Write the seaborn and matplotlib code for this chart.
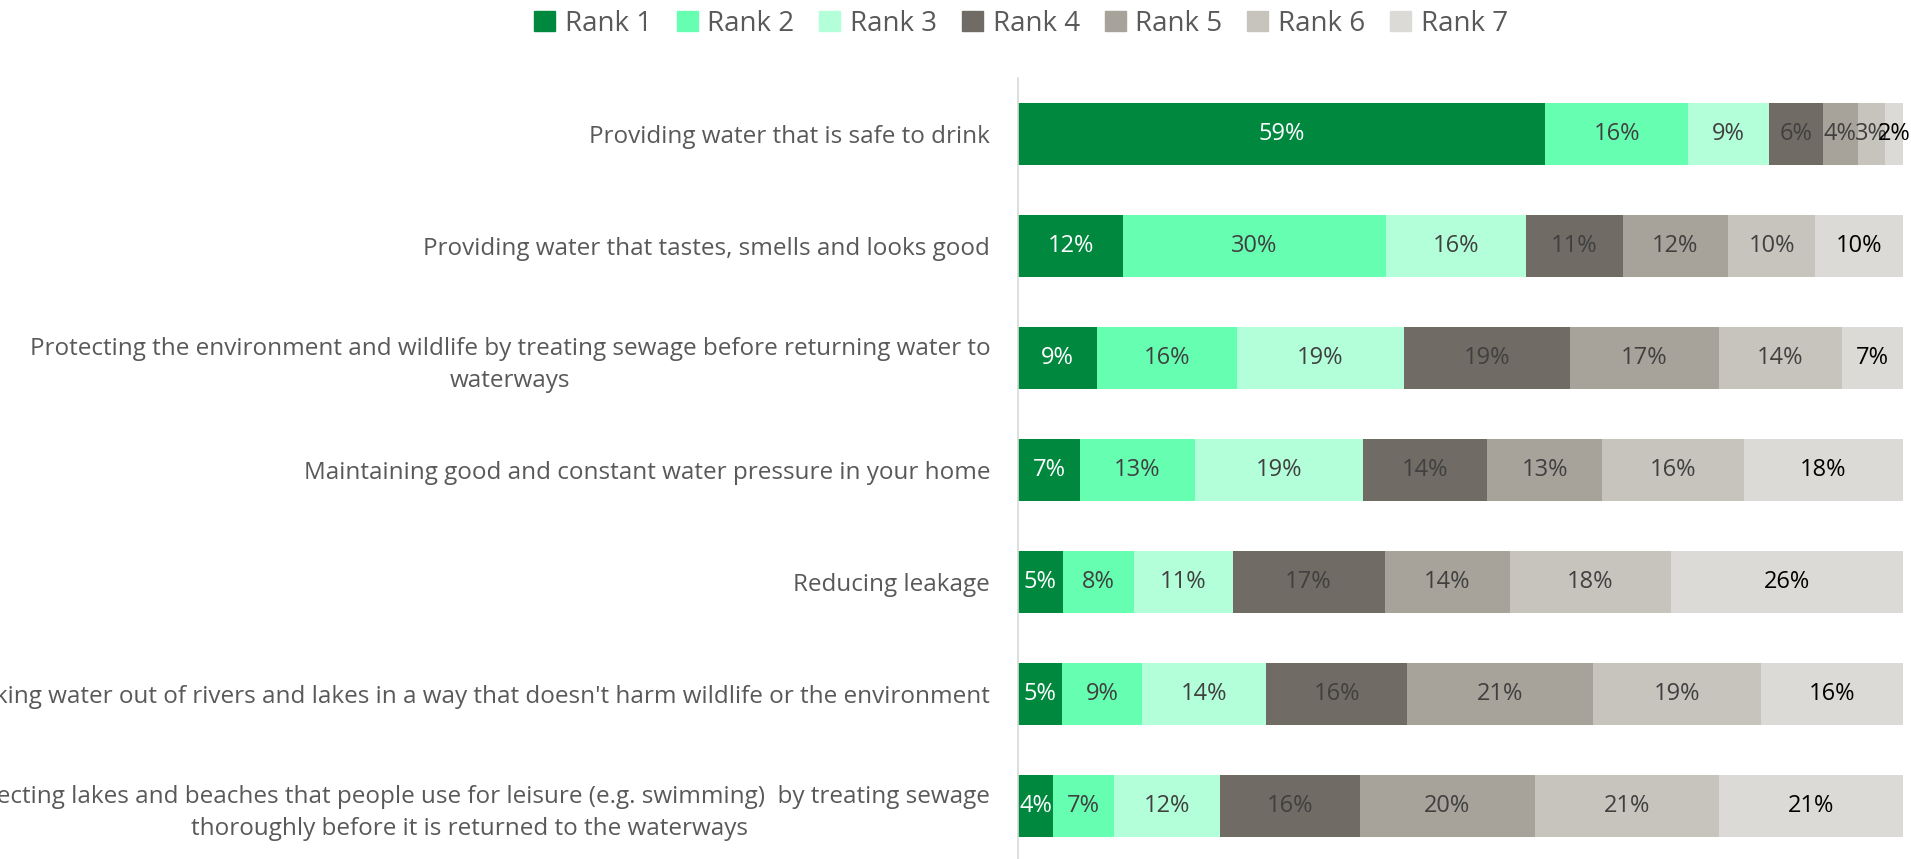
import numpy as np
import pandas as pd
import matplotlib
matplotlib.use("Agg")
import matplotlib.pyplot as plt
import seaborn as sns

categories = [
    "Providing water that is safe to drink",
    "Providing water that tastes, smells and looks good",
    "Protecting the environment and wildlife by treating sewage before returning water to\nwaterways",
    "Maintaining good and constant water pressure in your home",
    "Reducing leakage",
    "Taking water out of rivers and lakes in a way that doesn't harm wildlife or the environment",
    "Protecting lakes and beaches that people use for leisure (e.g. swimming)  by treating sewage\nthoroughly before it is returned to the waterways",
]
ranks = ["Rank 1", "Rank 2", "Rank 3", "Rank 4", "Rank 5", "Rank 6", "Rank 7"]

rank1 = [59, 12, 9, 7, 5, 5, 4]
rank2 = [16, 30, 16, 13, 8, 9, 7]
rank3 = [9, 16, 19, 19, 11, 14, 12]
rank4 = [6, 11, 19, 14, 17, 16, 16]
rank5 = [4, 12, 17, 13, 14, 21, 20]
rank6 = [3, 10, 14, 16, 18, 19, 21]
rank7 = [2, 10, 7, 18, 26, 16, 21]

colors = ["#00883F", "#66FFB2", "#B3FFD9", "#706B64", "#A7A39A", "#C7C4BE", "#DBDAD6"]
label_colors = ["#FFFFFF", "#404040", "#404040", "#404040", "#404040", "#404040", "#000000"]

FONT = ["Open Sans", "DejaVu Sans"]

sns.set_theme(style="white")
plt.rcParams["font.family"] = FONT

values = np.array([rank1, rank2, rank3, rank4, rank5, rank6, rank7], dtype=float)  # ranks x categories
shares = values / values.sum(axis=0) * 100  # each bar spans 100%
cum = np.cumsum(shares, axis=0)

fig = plt.figure(figsize=(19.11, 8.59), dpi=100)
ax = fig.add_axes([1018 / 1911, -3 / 859, 885 / 1911, 784 / 859])

# Stacked bars: paint cumulative totals from the last rank back to the first
for i in range(len(ranks) - 1, -1, -1):
    df = pd.DataFrame({"category": categories, "total": cum[i]})
    sns.barplot(data=df, y="category", x="total", order=categories, color=colors[i],
                width=0.55, saturation=1, ax=ax, linewidth=0)

# Percentage labels centred in each segment
for i in range(len(ranks)):
    for j in range(len(categories)):
        xc = cum[i, j] - shares[i, j] / 2
        ax.text(xc, j, f"{int(values[i, j])}%", ha="center", va="center",
                fontsize=17, color=label_colors[i], family=FONT)

ax.set_xlim(0, 100)
ax.set_ylim(6.5, -0.5)
ax.set_xlabel("")
ax.set_ylabel("")
ax.set_xticks([])
ax.tick_params(axis="y", length=0, pad=20, labelsize=17.5, labelcolor="#595959")
for lab in ax.get_yticklabels():
    lab.set_multialignment("center")
    lab.set_linespacing(1.45)
    lab.set_family(FONT)

for s in ["top", "right", "bottom"]:
    ax.spines[s].set_visible(False)
ax.spines["left"].set_color("#D9D9D9")
ax.spines["left"].set_linewidth(1.2)

handles = [plt.Rectangle((0, 0), 1, 1, color=c) for c in colors]
fig.legend(handles, ranks, loc="center", bbox_to_anchor=(1021 / 1911, 1 - 24 / 859),
           ncol=7, frameon=False, handlelength=0.75, handleheight=0.75,
           handletextpad=0.35, columnspacing=0.9, labelcolor="#595959",
           prop={"family": FONT, "size": 20})

fig.savefig("out.png", dpi=100)
